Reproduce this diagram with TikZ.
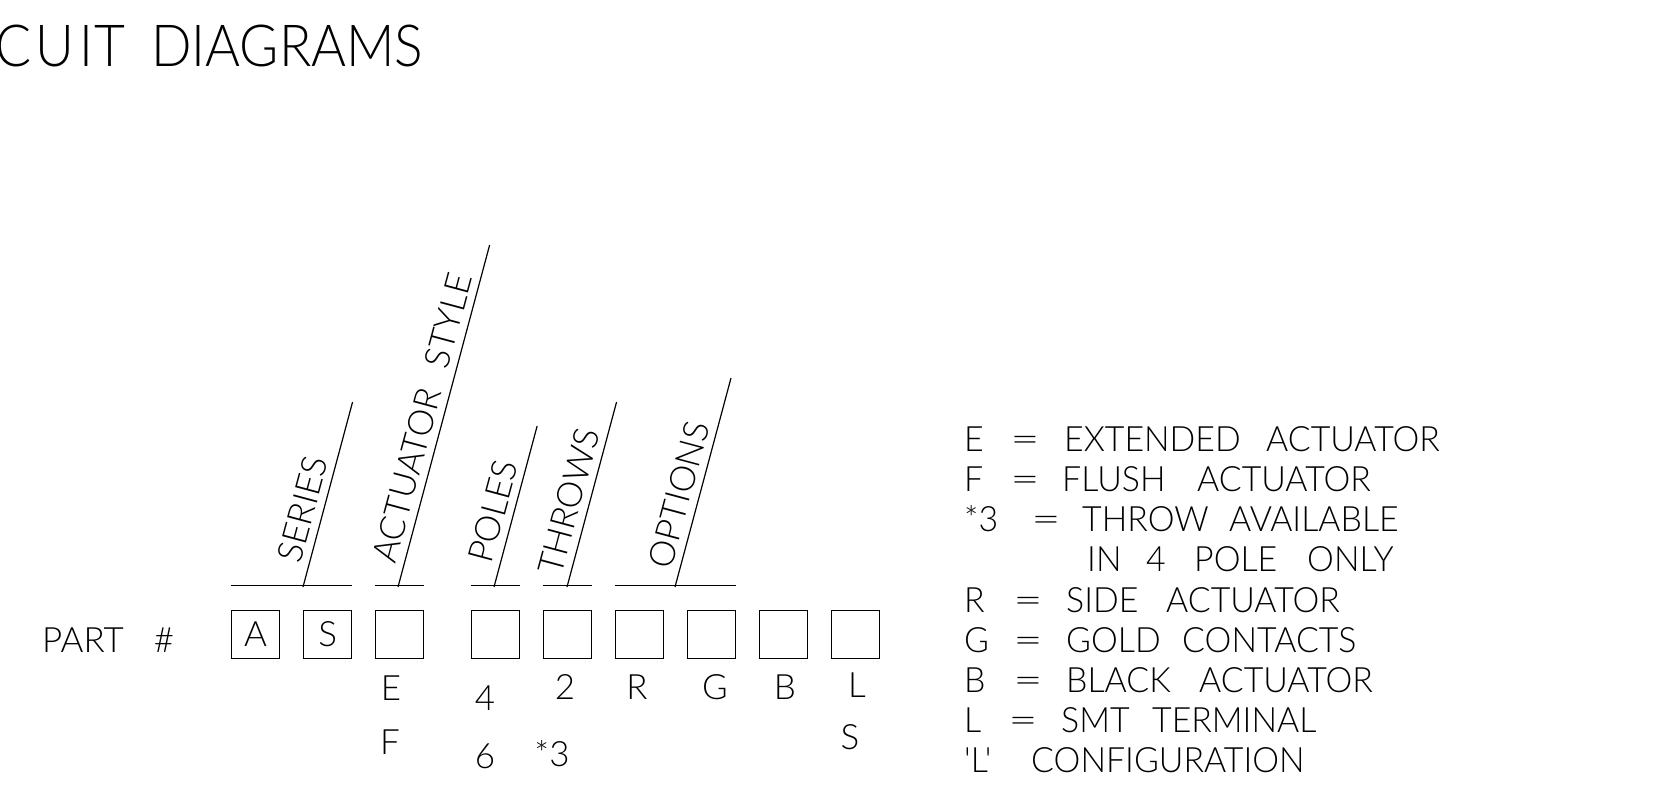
\documentclass[tikz,border=0pt]{standalone}
\usepackage{fontspec}
\usetikzlibrary{calc}
\IfFontExistsTF{Lato Light}{\newfontfamily\cad{Lato Light}}{\newfontfamily\cad{Liberation Sans}}
\newcommand\cadtxt{\cad\fontsize{34.9}{40}\selectfont}
\newcommand\cadttl{\cad\fontsize{58}{62}\selectfont}
\newcommand\wg{\hspace{22pt}}
\begin{document}
\begin{tikzpicture}[x=1pt,y=1pt,
  txt/.style={font=\cadtxt, inner sep=0pt, anchor=base west},
  ltxt/.style={font=\cadtxt, inner sep=0pt, anchor=base west, xscale=0.97, transform shape},
  eqs/.style={font=\cadtxt, inner sep=0pt, anchor=base west, xscale=1.45, transform shape},
  ctxt/.style={font=\cadtxt, inner sep=0pt, anchor=base},
  rtxt/.style={font=\cadtxt, inner sep=0pt, anchor=base, rotate=75},
  ttl/.style={font=\cadttl, inner sep=0pt, xscale=0.92, transform shape},
  cell/.style={draw, line width=1.3pt, minimum width=48pt, minimum height=48pt, inner sep=0pt, anchor=south west, font=\cadtxt},
  ln/.style={line width=1.2pt}]
\useasboundingbox (0,0) rectangle (1655,788);
% title
\node[ttl, anchor=base east] (t1) at (126,721) {C\kern5pt U\kern5pt I\kern2pt T};
\node[ttl, anchor=base west] (t2) at (151,721) {DIAGRAMS};
% part number
\node[txt] (part) at (42,136) {PART\hspace{30pt}\#};
\foreach \n/\x/\t in {1/231/A, 2/303/S, 3/375/, 4/471/, 5/543/, 6/615/, 7/687/, 8/759/, 9/831/}
  \node[cell] (b\n) at (\x,129) {\t};
% bars above boxes
\draw[ln] ($(b1.north west)+(0,24)$) coordinate (h1a) -- ($(b2.north east)+(0,24)$) coordinate (h1b);
\draw[ln] ($(b3.north west)+(0,24)$) coordinate (h2a) -- ($(b3.north east)+(0,24)$) coordinate (h2b);
\draw[ln] ($(b4.north west)+(0,24)$) coordinate (h3a) -- ($(b4.north east)+(0,24)$) coordinate (h3b);
\draw[ln] ($(b5.north west)+(0,24)$) coordinate (h4a) -- ($(b5.north east)+(0,24)$) coordinate (h4b);
\draw[ln] ($(b6.north west)+(0,24)$) coordinate (h5a) -- ($(b7.north east)+(0,24)$) coordinate (h5b);
% slanted leaders
\coordinate (s1) at (303,201);
\coordinate (s2) at (398,201);
\coordinate (s3) at (494,201);
\coordinate (s4) at (567,201);
\coordinate (s5) at (675,201);
\draw[ln] (s1) -- ++(75:191.5) coordinate (e1);
\draw[ln] (s2) -- ++(75:354) coordinate (e2);
\draw[ln] (s3) -- ++(75:166.7) coordinate (e3);
\draw[ln] (s4) -- ++(75:191.5) coordinate (e4);
\draw[ln] (s5) -- ++(75:216.4) coordinate (e5);
\node[rtxt] (r1) at ($(s1)+(75:75)+(165:8)$) {SERIES};
\node[rtxt] (r2) at ($(s2)+(75:170)+(165:8)$) {ACTUATOR\wg STYLE};
\node[rtxt] (r3) at ($(s3)+(75:73)+(165:8)$) {POLES};
\node[rtxt] (r4) at ($(s4)+(75:83)+(165:8)$) {THROWS};
\node[rtxt] (r5) at ($(s5)+(75:90)+(165:8)$) {OPTIONS};
% choices under boxes
\node[ctxt] (cE) at (391,88) {E};
\node[ctxt] (cF) at (390,34) {F};
\node[ctxt] (c4) at (485,78) {4};
\node[ctxt] (c6) at (485,20) {6};
\node[ctxt] (c2) at (565,89) {2};
\node[ctxt] (c3) at (552,22) {*3};
\node[ctxt] (cR) at (637,89) {R};
\node[ctxt] (cG) at (715,89) {G};
\node[ctxt] (cB) at (785,89) {B};
\node[ctxt] (cL) at (857,91) {L};
\node[ctxt] (cS) at (850,39) {S};
% legend
\foreach \n/\x/\y/\t in {
  a1/964/336/E, a3/1064/336/EXTENDED, a4/1266/336/ACTUATOR,
  b1/964/296/F, b3/1062/296/FLUSH, b4/1197/296/ACTUATOR,
  c1/964/256/*3, c3/1082/256/THROW, c4/1229/256/AVAILABLE,
  d1/1087/216/IN, d2/1146/216/4, d3/1194/216/POLE, d4/1307/216/ONLY,
  e1/964/176/R, e3/1066/176/SIDE, e4/1166/176/ACTUATOR,
  f1/964/136/G, f3/1066/136/GOLD, f4/1182/136/CONTACTS,
  g1/964/96/B, g3/1066/96/BLACK, g4/1199/96/ACTUATOR,
  h1/964/56/L, h3/1061/56/SMT, h4/1152/56/TERMINAL,
  i1/964/16/'L', i2/1031/16/CONFIGURATION}
  \node[ltxt] (w\n) at (\x,\y) {\t};
\foreach \n/\x/\y in {a2/1010/336, b2/1010/296, c2/1031/256, e2/1013/176, f2/1013/136, g2/1013/96, h2/1008/56}
  \node[eqs] (w\n) at (\x,\y) {=};
\end{tikzpicture}
\end{document}
